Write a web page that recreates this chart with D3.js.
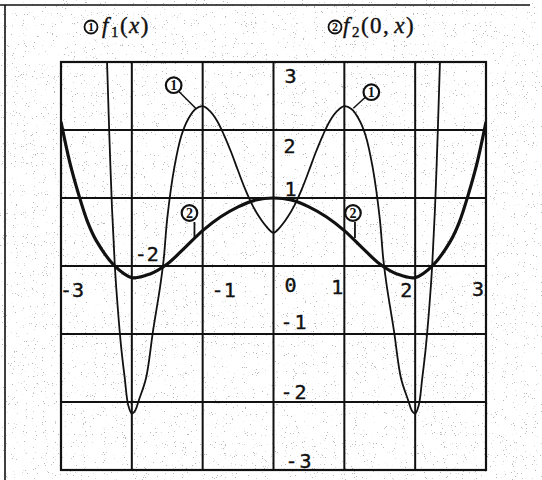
<!DOCTYPE html>
<html>
<head>
<meta charset="utf-8">
<script src="https://cdn.jsdelivr.net/npm/d3@7/dist/d3.min.js"></script>
<style>
  html, body { margin: 0; padding: 0; background: #fff; }
  svg { display: block; }
</style>
</head>
<body>
<svg id="chart" width="542" height="480"></svg>
<script>
// Sampled values of the two curves (both even in x)
const f1X = [-2.42, -2.38, -2.35, -2.32, -2.28, -2.24, -2.2, -2.15, -2.1, -2.05, -2.0, -1.95, -1.9, -1.8, -1.7, -1.6, -1.55, -1.5,
             -1.4, -1.3, -1.2, -1.1, -1.0, -0.9, -0.8, -0.7, -0.6, -0.5, -0.4, -0.3, -0.2, -0.1, 0,
             0.1, 0.2, 0.3, 0.4, 0.5, 0.6, 0.7, 0.8, 0.9, 1.0, 1.1, 1.2, 1.3, 1.4,
             1.5, 1.55, 1.6, 1.7, 1.8, 1.9, 1.95, 2.0, 2.05, 2.1, 2.15, 2.2, 2.24, 2.28, 2.32, 2.35, 2.38, 2.42];
const f1Y = [4.6, 3.6, 3.0, 2.0, 0.85, 0.0, -0.6, -1.2, -1.65, -2.05, -2.17, -2.12, -1.97, -1.65, -0.95, -0.3, 0.1, 0.7,
             1.45, 1.92, 2.17, 2.31, 2.35, 2.28, 2.14, 1.93, 1.68, 1.40, 1.13, 0.90, 0.72, 0.58, 0.49,
             0.58, 0.72, 0.90, 1.13, 1.40, 1.68, 1.93, 2.14, 2.28, 2.35, 2.31, 2.17, 1.92, 1.45,
             0.7, 0.1, -0.3, -0.95, -1.65, -1.97, -2.12, -2.17, -2.05, -1.65, -1.2, -0.6, 0.0, 0.85, 2.0, 3.0, 3.6, 4.6];

const f2X = [-3.0, -2.875, -2.75, -2.625, -2.5, -2.25, -2.0, -1.75, -1.5, -1.25, -1.0, -0.75, -0.5, -0.25, 0,
             0.25, 0.5, 0.75, 1.0, 1.25, 1.5, 1.75, 2.0, 2.25, 2.5, 2.625, 2.75, 2.875, 3.0];
const f2Y = [2.12, 1.52, 1.05, 0.65, 0.37, 0.01, -0.17, -0.12, 0.03, 0.27, 0.52, 0.72, 0.87, 0.97, 1.0,
             0.97, 0.87, 0.72, 0.52, 0.27, 0.03, -0.12, -0.17, 0.01, 0.37, 0.65, 1.05, 1.52, 2.12];

// Axis tick labels
const xTicks = [-3, -2, -1, 0, 1, 2, 3];
const xTickLabels = ["-3", "-2", "-1", "0", "1", "2", "3"];
const yTicks = [1, 2, 3, -1, -2, -3];
const yTickLabels = ["1", "2", "3", "-1", "-2", "-3"];
const gridValues = [-2, -1, 0, 1, 2];

// Circled numbers naming the curves
const calloutNames = ["1", "2", "1", "2"];

const svg = d3.select("#chart");

// Paper grain
const defs = svg.append("defs");
const grain = defs.append("filter").attr("id", "grain")
  .attr("x", 0).attr("y", 0).attr("width", "100%").attr("height", "100%");
grain.append("feTurbulence").attr("type", "fractalNoise").attr("baseFrequency", 0.9)
  .attr("numOctaves", 2).attr("seed", 7).attr("result", "n");
grain.append("feColorMatrix").attr("in", "n").attr("type", "matrix")
  .attr("values", "0 0 0 0 0  0 0 0 0 0  0 0 0 0 0  16 0 0 0 -11.2");

svg.append("rect").attr("width", 542).attr("height", 480).attr("fill", "#fff");
svg.append("rect").attr("width", 542).attr("height", 480).attr("fill", "#000")
  .attr("filter", "url(#grain)").attr("opacity", 0.28);

// Page edge lines
svg.append("line").attr("x1", 0).attr("x2", 530).attr("y1", 5).attr("y2", 5)
  .attr("stroke", "#111").attr("stroke-width", 1.6);
svg.append("line").attr("x1", 5).attr("x2", 5).attr("y1", 5).attr("y2", 480)
  .attr("stroke", "#111").attr("stroke-width", 1.6);

const x = d3.scaleLinear().domain([-3, 3]).range([61, 486]);
const y = d3.scaleLinear().domain([-3, 3]).range([470, 62]);

defs.append("clipPath").attr("id", "plotClip").append("rect")
  .attr("x", x(-3)).attr("y", y(3)).attr("width", x(3) - x(-3)).attr("height", y(-3) - y(3));

// Grid
const grid = svg.append("g").attr("stroke", "#111").attr("stroke-width", 2);
grid.selectAll(".gv").data(gridValues).join("line")
  .attr("x1", d => x(d)).attr("x2", d => x(d)).attr("y1", y(3)).attr("y2", y(-3));
grid.selectAll(".gh").data(gridValues).join("line")
  .attr("y1", d => y(d)).attr("y2", d => y(d)).attr("x1", x(-3)).attr("x2", x(3));
svg.append("rect").attr("x", x(-3)).attr("y", y(3))
  .attr("width", x(3) - x(-3)).attr("height", y(-3) - y(3))
  .attr("fill", "none").attr("stroke", "#111").attr("stroke-width", 2.2);

// Curves
const line = d3.line().x(d => x(d[0])).y(d => y(d[1])).curve(d3.curveCatmullRom.alpha(0.5));
const curves = svg.append("g").attr("clip-path", "url(#plotClip)").attr("fill", "none").attr("stroke", "#111");
curves.append("path").datum(f1X.map((v, i) => [v, f1Y[i]]))
  .attr("d", line).attr("stroke-width", 1.8);
curves.append("path").datum(f2X.map((v, i) => [v, f2Y[i]]))
  .attr("d", line).attr("stroke-width", 3.2);

// Tick labels: each number sits in a free corner next to its grid line
const mono = "'DejaVu Sans Mono', monospace";
const xLabelShift = { "-3": [11, 31], "-2": [15, -5], "-1": [21, 31], "0": [17, 26], "1": [-7, 28], "2": [-9, 31], "3": [-8, 30] };
svg.append("g").selectAll("text").data(xTicks).join("text")
  .attr("x", (d, i) => x(d) + xLabelShift[xTickLabels[i]][0])
  .attr("y", (d, i) => y(0) + xLabelShift[xTickLabels[i]][1])
  .attr("text-anchor", "middle").attr("font-family", mono).attr("font-size", 20)
  .attr("fill", "#111").attr("stroke", "#111").attr("stroke-width", 0.4)
  .text((d, i) => xTickLabels[i]);
const yLabelShift = { "1": [11, -2], "2": [10, 23], "3": [11, 21], "-1": [7, -5], "-2": [7, -3], "-3": [12, -2] };
svg.append("g").selectAll("text").data(yTicks).join("text")
  .attr("x", (d, i) => x(0) + yLabelShift[yTickLabels[i]][0])
  .attr("y", (d, i) => y(d) + yLabelShift[yTickLabels[i]][1])
  .attr("font-family", mono).attr("font-size", 20).attr("fill", "#111")
  .attr("stroke", "#111").attr("stroke-width", 0.4)
  .attr("letter-spacing", d => d < 0 ? 2 : 0)
  .text((d, i) => yTickLabels[i]);

// Callouts
const callouts = svg.append("g").attr("fill", "none").attr("stroke", "#111");
function circled(g, cx, cy, r, label, size, sw) {
  g.append("circle").attr("cx", cx).attr("cy", cy).attr("r", r).attr("fill", "#fff")
    .attr("stroke", "#111").attr("stroke-width", sw);
  g.append("text").attr("x", cx).attr("y", cy + size * 0.35).attr("text-anchor", "middle")
    .attr("font-family", "'Liberation Serif', serif").attr("font-weight", "bold")
    .attr("font-size", size).attr("fill", "#111").attr("stroke", "none").attr("letter-spacing", 0).text(label);
}
// curve 1 peaks
[[-1.0, -1], [1.0, 1]].forEach(([px, side]) => {
  const tx = x(px), ty = y(2.35);
  const cx = side < 0 ? tx - 29 : tx + 27, cy = side < 0 ? ty - 21 : ty - 14;
  callouts.append("line").attr("x1", side < 0 ? cx + 5 : cx - 6).attr("y1", side < 0 ? cy + 6 : cy + 5)
    .attr("x2", side < 0 ? tx - 7 : tx + 9).attr("y2", ty + 2).attr("stroke-width", 1.5);
  circled(callouts, cx, cy, 7.8, calloutNames[side < 0 ? 0 : 2], 14, 2.2);
});
// curve 2 flanks
[-1.13, 1.15].forEach((px, k) => {
  const tx = x(px) + (k === 0 ? 1 : 0);
  callouts.append("line").attr("x1", tx).attr("x2", tx).attr("y1", 222).attr("y2", 238).attr("stroke-width", 1.8);
  circled(callouts, tx - (k === 0 ? 5 : 2), 213, 7.8, calloutNames[k === 0 ? 1 : 3], 14, 2.2);
});

// Titles
const serif = "'Liberation Serif', 'DejaVu Serif', serif";
const title = svg.append("g").attr("fill", "#111");
circled(title, 91, 27, 6.5, "1", 12, 1.8);
const t1 = title.append("text").attr("x", 102).attr("y", 33).attr("font-family", serif)
  .attr("font-size", 23).attr("letter-spacing", 1.5).attr("stroke", "#111").attr("stroke-width", 0.4);
t1.append("tspan").attr("font-style", "italic").text("f");
t1.append("tspan").attr("font-size", 15).attr("dy", 4).attr("dx", 1).text("1");
t1.append("tspan").attr("dy", -4).text("(");
t1.append("tspan").attr("font-style", "italic").text("x");
t1.append("tspan").text(")");
circled(title, 335, 27, 6.5, "2", 12, 1.8);
const t2 = title.append("text").attr("x", 343).attr("y", 33).attr("font-family", serif)
  .attr("font-size", 23).attr("letter-spacing", 1.5).attr("stroke", "#111").attr("stroke-width", 0.4);
t2.append("tspan").attr("font-style", "italic").text("f");
t2.append("tspan").attr("font-size", 15).attr("dy", 4).attr("dx", 1).text("2");
t2.append("tspan").attr("dy", -4).text("(0,");
t2.append("tspan").attr("font-style", "italic").attr("dx", 4).text("x");
t2.append("tspan").text(")");
</script>
</body>
</html>
